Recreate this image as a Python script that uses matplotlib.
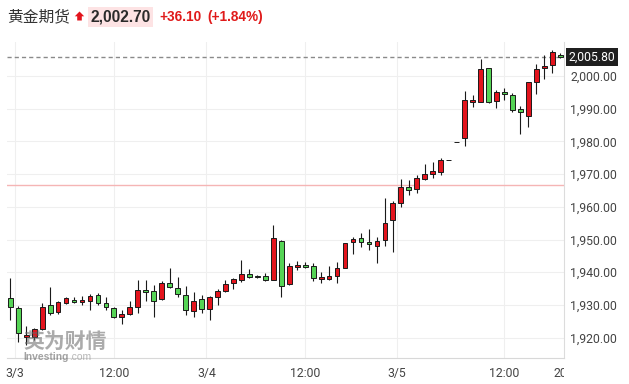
import matplotlib
matplotlib.use("Agg")
import matplotlib.pyplot as plt
import matplotlib.transforms as mtransforms
from matplotlib.patches import Rectangle, Polygon
import numpy as np

# ---- data ----
opens = [1932.0, 1929.0, 1920.1, 1920.3, 1922.6, 1929.9, 1927.7, 1930.5, 1931.5, 1930.8,
         1931.2, 1933.0, 1930.5, 1929.1, 1926.4, 1927.1, 1929.5, 1934.6, 1934.3, 1931.7,
         1936.7, 1935.1, 1933.0, 1928.1, 1931.7, 1928.7, 1932.3, 1934.3, 1936.6, 1937.6,
         1939.4, 1938.9, 1938.7, 1937.6, 1949.6, 1936.3, 1941.5, 1942.1, 1941.9, 1937.8,
         1938.0, 1938.8, 1941.4, 1949.1, 1950.4, 1949.2, 1948.1, 1949.8, 1956.0, 1961.1,
         1966.0, 1965.4, 1968.4, 1969.9, 1970.7, 1974.2, 1979.7, 1981.1, 1992.0, 1992.1,
         2002.4, 1992.4, 1995.0, 1994.2, 1989.9, 1987.9, 1998.3, 2002.4, 2003.4, 2006.5]
highs = [1938.1, 1929.7, 1923.6, 1923.0, 1930.7, 1935.4, 1931.3, 1932.3, 1932.5, 1932.8,
         1933.2, 1933.5, 1932.5, 1929.5, 1928.4, 1931.3, 1937.6, 1937.6, 1936.0, 1937.3,
         1941.2, 1938.6, 1935.9, 1934.0, 1933.0, 1932.7, 1934.8, 1937.6, 1938.3, 1943.7,
         1940.9, 1939.1, 1939.7, 1954.4, 1949.8, 1942.7, 1943.5, 1943.0, 1942.7, 1940.1,
         1941.9, 1943.2, 1949.0, 1950.9, 1952.1, 1953.1, 1950.9, 1962.6, 1961.9, 1968.4,
         1968.2, 1969.7, 1973.1, 1973.6, 1974.8, 1974.2, 1979.7, 1995.4, 1994.2, 2005.2,
         2002.4, 1995.7, 1996.2, 1994.7, 1990.9, 1998.3, 2003.6, 2006.4, 2008.0, 2007.0]
lows = [1925.4, 1918.7, 1917.7, 1919.3, 1922.3, 1926.9, 1927.2, 1930.3, 1930.7, 1930.0,
        1928.4, 1930.0, 1928.4, 1925.9, 1924.2, 1926.9, 1927.4, 1931.3, 1926.2, 1931.5,
        1935.1, 1932.5, 1926.9, 1926.4, 1927.4, 1925.4, 1930.0, 1934.0, 1934.8, 1937.1,
        1938.1, 1938.2, 1937.4, 1937.6, 1932.3, 1936.1, 1940.7, 1941.2, 1937.3, 1936.8,
        1937.6, 1936.6, 1941.2, 1945.5, 1947.6, 1946.8, 1942.7, 1948.1, 1946.1, 1960.0,
        1963.6, 1964.1, 1968.2, 1968.7, 1969.7, 1974.2, 1979.7, 1978.7, 1990.6, 1992.0,
        1991.7, 1990.1, 1992.7, 1989.1, 1982.2, 1984.3, 1994.5, 1999.0, 2000.8, 2005.6]
closes = [1929.3, 1921.4, 1920.8, 1922.5, 1929.4, 1927.4, 1930.8, 1932.0, 1930.8, 1931.4,
          1932.7, 1930.7, 1929.5, 1926.2, 1927.1, 1929.5, 1934.6, 1933.9, 1931.3, 1936.6,
          1935.4, 1933.3, 1928.4, 1931.2, 1928.7, 1932.3, 1934.3, 1936.3, 1937.8, 1939.4,
          1938.4, 1938.4, 1937.6, 1950.4, 1935.9, 1941.9, 1942.1, 1941.5, 1938.1, 1938.4,
          1938.8, 1941.2, 1948.8, 1950.2, 1949.3, 1948.5, 1949.5, 1955.0, 1961.1, 1966.0,
          1965.2, 1968.7, 1970.0, 1970.9, 1974.2, 1974.2, 1979.7, 1992.7, 1992.7, 2002.0,
          1992.1, 1995.0, 1994.4, 1989.6, 1988.9, 1998.1, 2002.0, 2003.1, 2007.2, 2005.8]

xtick_pos = [0.59, 13.05, 24.6, 37.0, 48.5, 62.0]
xtick_labels = ["3/3", "12:00", "3/4", "12:00", "3/5", "12:00"]
extra_tick_pos = 70.0
extra_tick_label = "20:00"
ytick_vals = [1920, 1930, 1940, 1950, 1960, 1970, 1980, 1990, 2000]

last_price = 2005.80
prev_close = 1966.60
title_name = "黄金期货"
head_price = "2,002.70"
head_change = "+36.10"
head_pct = "(+1.84%)"

# ---- figure ----
W, H = 629, 384
fig = plt.figure(figsize=(W / 100, H / 100), dpi=100)
fig.patch.set_facecolor("white")

L_px, R_px, T_px, B_px = 7, 564, 42, 358
ax = fig.add_axes([L_px / W, 1 - B_px / H, (R_px - L_px) / W, (B_px - T_px) / H])

RED = "#e3141d"
GREEN = "#55d455"
EDGE = "#1a1a1a"

o = np.array(opens); h = np.array(highs); l = np.array(lows); c = np.array(closes)
x = np.arange(len(o))
up = c >= o
cols = np.where(up, RED, GREEN)
bottoms = np.minimum(o, c)
heights = np.abs(c - o)

ax.vlines(x, l, h, color=EDGE, lw=0.8, zorder=3)
ax.bar(x, heights, bottom=bottoms, width=0.6, color=cols, edgecolor=EDGE,
       linewidth=0.7, zorder=4)

ax.set_xlim(-0.41, 69.47)
ax.set_ylim(1913.76, 2010.4)

# grid
for v in ytick_vals:
    ax.axhline(v, color="#efefef", lw=0.8, zorder=0)
for p in xtick_pos:
    ax.axvline(p, color="#efefef", lw=0.8, zorder=0)

ax.axhline(prev_close, color="#f5b5b5", lw=1.0, zorder=1)
ax.axhline(last_price, color="#8a8a8a", lw=1.0, ls=(0, (3.0, 2.2)), zorder=2)

# spines
for s in ["top", "left"]:
    ax.spines[s].set_visible(False)
ax.spines["bottom"].set_color("#d8d8d8")
ax.spines["right"].set_color("#dcdcdc")
ax.spines["bottom"].set_linewidth(0.8)
ax.spines["right"].set_linewidth(0.8)

# ticks
ax.yaxis.tick_right()
ax.set_yticks(ytick_vals)
ax.set_yticklabels([f"{v:,.2f}" for v in ytick_vals])
ax.set_xticks(xtick_pos)
ax.set_xticklabels(xtick_labels)
ax.tick_params(axis="both", length=0, labelsize=8.8, labelcolor="#444444")
ax.tick_params(axis="y", pad=4.4)
ax.tick_params(axis="x", pad=6.3)
for lab in ax.get_xticklabels() + ax.get_yticklabels():
    lab.set_fontfamily("Roboto")

# clipped 20:00 label at the right edge
xt = mtransforms.blended_transform_factory(ax.transData, ax.transAxes)
offs = mtransforms.ScaledTranslation(0, -6.3 / 72, fig.dpi_scale_trans)
t20 = ax.text(extra_tick_pos, 0, extra_tick_label, transform=xt + offs, ha="center", va="top",
              fontsize=8.8, color="#444444", fontfamily="Roboto", clip_on=True)
t20.set_clip_box(mtransforms.TransformedBbox(
    mtransforms.Bbox([[0, 0], [R_px / W, 1]]), fig.transFigure))

# last price tag
yt = mtransforms.blended_transform_factory(fig.transFigure, ax.transData)
ax.text(568.5 / W, last_price, f"{last_price:,.2f}", transform=yt, ha="left", va="center",
        fontsize=8.8, color="white", fontfamily="Roboto", clip_on=False, zorder=10,
        bbox=dict(boxstyle="square,pad=0.22", fc="#1f1f1f", ec="none"))

# header
def fx(px):
    return px / W

def fy(py):
    return 1 - py / H

fig.text(fx(7), fy(17), title_name, fontsize=11.3, color="#333333",
         fontfamily=["Noto Sans CJK SC", "DejaVu Sans"], va="center", ha="left")
arrow = Polygon([(fx(79.5), fy(11.5)), (fx(84.2), fy(16.3)), (fx(81.8), fy(16.3)),
                 (fx(81.8), fy(20.5)), (fx(77.2), fy(20.5)), (fx(77.2), fy(16.3)),
                 (fx(74.8), fy(16.3))], closed=True, transform=fig.transFigure,
                fc="#e3141d", ec="none")
fig.patches.append(arrow)
box = Rectangle((fx(88), fy(27)), fx(153) - fx(88), fy(7) - fy(27), transform=fig.transFigure,
                fc="#fde3e4", ec="none", zorder=0)
fig.patches.append(box)
fig.text(fx(90.5), fy(17), head_price, fontsize=11.2, fontweight="bold", color="#2b2b2b",
         fontfamily="Liberation Sans", va="center", ha="left", zorder=2)
fig.text(fx(159), fy(17), head_change, fontsize=9.8, fontweight="bold", color="#e01a1a",
         fontfamily="Liberation Sans", va="center", ha="left")
fig.text(fx(207), fy(17), head_pct, fontsize=9.8, fontweight="bold", color="#e01a1a",
         fontfamily="Liberation Sans", va="center", ha="left")

# watermark
fig.text(fx(23), fy(341), "英为财情", fontsize=15, fontweight="bold", color="#666666",
         alpha=0.55, fontfamily=["Noto Sans CJK SC", "DejaVu Sans"], va="center", ha="left",
         zorder=20)
fig.text(fx(23), fy(357), "Investing", fontsize=7.4, fontweight="bold", color="#666666",
         alpha=0.6, fontfamily="Liberation Sans", va="center", ha="left", zorder=20)
fig.text(fx(69), fy(357), ".com", fontsize=7.4, color="#888888",
         alpha=0.6, fontfamily="Liberation Sans", va="center", ha="left", zorder=20)

fig.savefig("out.png", dpi=100, facecolor="white")
